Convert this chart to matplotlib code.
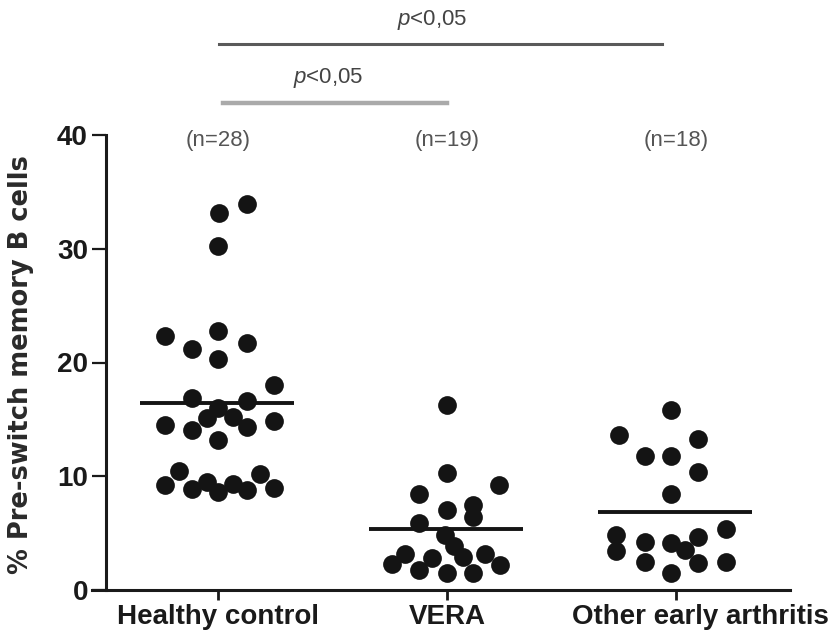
import matplotlib
matplotlib.use("Agg")
import matplotlib.pyplot as plt
import matplotlib.transforms as mtransforms

# data (values in %, offsets = horizontal spread of dots)
groups = ["Healthy control", "VERA", "Other early arthritis"]
n_labels = ["(n=28)", "(n=19)", "(n=18)"]

hc_values = [33.9, 33.1, 30.2, 22.3, 22.8, 21.2, 21.7, 20.3, 18.0, 16.9,
             16.6, 16.0, 15.1, 15.2, 14.5, 14.1, 14.3, 14.9, 13.2, 10.5,
             9.2, 8.9, 9.5, 8.6, 9.3, 8.8, 10.2, 9.0]
hc_offsets = [0.125, 0.003, 0.0, -0.233, 0.0, -0.114, 0.125, 0.0, 0.245, -0.114,
              0.125, 0.0, -0.05, 0.064, -0.233, -0.114, 0.125, 0.245, 0.0, -0.17,
              -0.233, -0.114, -0.05, 0.0, 0.064, 0.125, 0.183, 0.245]

vera_values = [16.3, 10.25, 9.2, 8.4, 7.0, 7.5, 6.45, 5.86, 4.8, 3.9, 2.9,
               2.3, 3.2, 1.8, 2.8, 1.5, 1.5, 3.2, 2.2]
vera_offsets = [0.0, 0.0, 0.228, -0.124, 0.0, 0.112, 0.112, -0.124, -0.01, 0.03, 0.07,
                -0.24, -0.185, -0.124, -0.066, 0.0, 0.112, 0.166, 0.23]

other_values = [15.8, 13.6, 13.3, 11.8, 11.8, 10.4, 8.4, 4.8, 3.4, 4.25, 2.5,
                4.1, 3.5, 4.7, 2.35, 5.4, 2.5, 1.5]
other_offsets = [-0.02, -0.25, 0.098, -0.135, -0.02, 0.098, -0.02, -0.26, -0.26, -0.135, -0.135,
                 -0.02, 0.04, 0.098, 0.098, 0.22, 0.22, -0.02]

medians = [16.4, 5.35, 6.85]

plt.rcParams["font.family"] = ["Liberation Sans", "DejaVu Sans"]
plt.rcParams["mathtext.fontset"] = "custom"
plt.rcParams["mathtext.it"] = "Liberation Sans:italic"
plt.rcParams["mathtext.rm"] = "Liberation Sans"

fig = plt.figure(figsize=(8.32, 6.36), dpi=100)
ax = fig.add_axes([92 / 832, 46 / 636, 698 / 832, 455 / 636])

all_vals = [hc_values, vera_values, other_values]
all_offs = [hc_offsets, vera_offsets, other_offsets]
for i, (vals, offs) in enumerate(zip(all_vals, all_offs)):
    xs = [i + o for o in offs]
    ax.plot(xs, vals, "o", ms=13.5, color="#141414", mec="none", clip_on=False, zorder=3)
    ax.hlines(medians[i], i - 0.34, i + 0.33, color="#141414", lw=2.8, zorder=4)
    ax.text(i, 39.5, n_labels[i], ha="center", va="center", fontsize=16, color="#555555")

# significance bars
ax.plot([0.005, 1.94], [48.0, 48.0], color="#5a5a5a", lw=2.2, clip_on=False)
ax.text(0.935, 50.1, r"$\it{p}$<0,05", ha="center", va="center", fontsize=16, color="#444444")
ax.plot([0.02, 1.0], [42.8, 42.8], color="#aaaaaa", lw=3.2, clip_on=False)
ax.text(0.48, 45.0, r"$\it{p}$<0,05", ha="center", va="center", fontsize=16, color="#444444")

ax.set_xlim(-0.55, 2.498)
ax.set_ylim(0, 40)
ax.spines["top"].set_visible(False)
ax.spines["right"].set_visible(False)
ax.spines["left"].set_position(("data", -0.489))
for s in ("left", "bottom"):
    ax.spines[s].set_linewidth(2.2)
    ax.spines[s].set_color("#1a1a1a")

ax.set_yticks([0, 10, 20, 30, 40])
ax.set_xticks([0, 1, 2])
ax.set_xticklabels(groups)
ax.tick_params(axis="y", length=10, width=1.6, pad=3, labelsize=20, colors="#1a1a1a")
ax.tick_params(axis="x", length=7, width=2, pad=3, labelsize=20, colors="#1a1a1a")
for lab in ax.get_xticklabels() + ax.get_yticklabels():
    lab.set_fontweight("bold")

# last label sits a bit right of its tick in the reference
lab = ax.get_xticklabels()[2]
lab.set_transform(lab.get_transform() + mtransforms.ScaledTranslation(0.24, 0, fig.dpi_scale_trans))

ax.set_ylabel("% Pre-switch memory B cells", fontsize=18.5, fontweight="bold",
              color="#2a2a2a", family="DejaVu Sans")
ax.yaxis.set_label_coords((34 - 92) / 698, (590 - 365) / 455)

fig.savefig("out.png", dpi=100)
